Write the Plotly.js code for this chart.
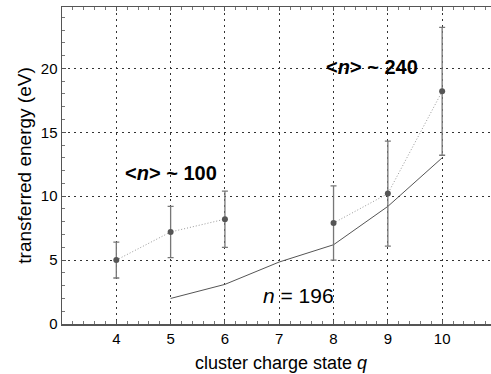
<!DOCTYPE html>
<html>
<head>
<meta charset="utf-8">
<script src="https://cdn.plot.ly/plotly-3.0.1.min.js"></script>
<style>html,body{margin:0;padding:0;background:#fff;overflow:hidden;width:491px;height:374px;}#wrap{position:relative;width:491px;height:374px;overflow:hidden;}#chart{position:absolute;left:0;top:0;width:560px;height:374px;}</style>
</head>
<body>
<div id="wrap"><div id="chart"></div></div>
<script>
// cluster charge state q, <n> ~ 100 group
const qLow = [4, 5, 6];
const eLow = [5.0, 7.2, 8.2];
const errLow = [1.4, 2.0, 2.2];
// <n> ~ 240 group
const qHigh = [8, 9, 10];
const eHigh = [7.9, 10.2, 18.2];
const errHigh = [2.9, 4.1, 5.0];
// n = 196 calculation
const qCalc = [5, 6, 7, 8, 9, 10];
const eCalc = [2.0, 3.1, 4.85, 6.2, 9.2, 13.0];
// tick labels
const xTicks = [4, 5, 6, 7, 8, 9, 10];
const yTicks = [0, 5, 10, 15, 20];

const font = 'Liberation Sans, Arial, sans-serif';

function expTrace(x, y, err) {
  return {
    x: x, y: y, type: 'scatter', mode: 'lines+markers',
    line: {color: '#999', width: 1, dash: '1px,2px'},
    marker: {color: '#555', size: 6},
    error_y: {type: 'data', array: err, visible: true, color: '#777', thickness: 1.3, width: 3},
    showlegend: false, cliponaxis: false
  };
}

const traces = [
  {x: qCalc, y: eCalc, type: 'scatter', mode: 'lines',
   line: {color: '#555', width: 1}, showlegend: false},
  expTrace(qLow, eLow, errLow),
  expTrace(qHigh, eHigh, errHigh)
];

const layout = {
  width: 560, height: 374,
  margin: {l: 62, r: 0, t: 7, b: 50},
  paper_bgcolor: '#fff', plot_bgcolor: '#fff',
  font: {family: font, color: '#000', size: 15},
  xaxis: {
    range: [3, 12.17], tickvals: xTicks, ticktext: xTicks.map(String),
    showline: true, linecolor: '#555', linewidth: 1.5, mirror: 'allticks',
    ticks: 'inside', ticklen: 4, tickcolor: '#555',
    minor: {dtick: 0.2, tick0: 0, ticks: 'inside', ticklen: 3, tickcolor: '#777', showgrid: false},
    showgrid: true, gridcolor: '#333', griddash: '2px,4px', gridwidth: 1,
    zeroline: false, tickfont: {size: 15},
    title: {text: '', font: {size: 18}}
  },
  yaxis: {
    range: [0, 24.8], tickvals: yTicks, ticktext: yTicks.map(String),
    showline: true, linecolor: '#555', linewidth: 1.5, mirror: false,
    ticks: 'inside', ticklen: 4, tickcolor: '#555',
    minor: {dtick: 1, tick0: 0, ticks: 'inside', ticklen: 3, tickcolor: '#777', showgrid: false},
    showgrid: true, gridcolor: '#333', griddash: '2px,4px', gridwidth: 1,
    zeroline: false, tickfont: {size: 15},
    title: {text: 'transferred energy (eV)', font: {size: 19}, standoff: 4}
  },
  annotations: [
    {x: 5.0, y: 11.8, xref: 'x', yref: 'y', showarrow: false,
     text: '<b>&lt;<i>n</i>&gt; ~ 100</b>', font: {size: 20, family: font}},
    {x: 8.70, y: 20.1, xref: 'x', yref: 'y', showarrow: false,
     text: '<b>&lt;<i>n</i>&gt; ~ 240</b>', font: {size: 20, family: font}},
    {x: 7.36, y: 2.2, xref: 'x', yref: 'y', showarrow: false,
     text: '<i>n</i> = 196', font: {size: 21, family: font}},
    // x-axis title, centred on the visible part of the axis
    {x: 7.03, y: 0, xref: 'x', yref: 'paper', yanchor: 'top', yshift: -27, showarrow: false,
     text: 'cluster charge state <i>q</i>', font: {size: 18, family: font}}
  ]
};

Plotly.newPlot('chart', traces, layout, {displayModeBar: false, staticPlot: true});
</script>
</body>
</html>
